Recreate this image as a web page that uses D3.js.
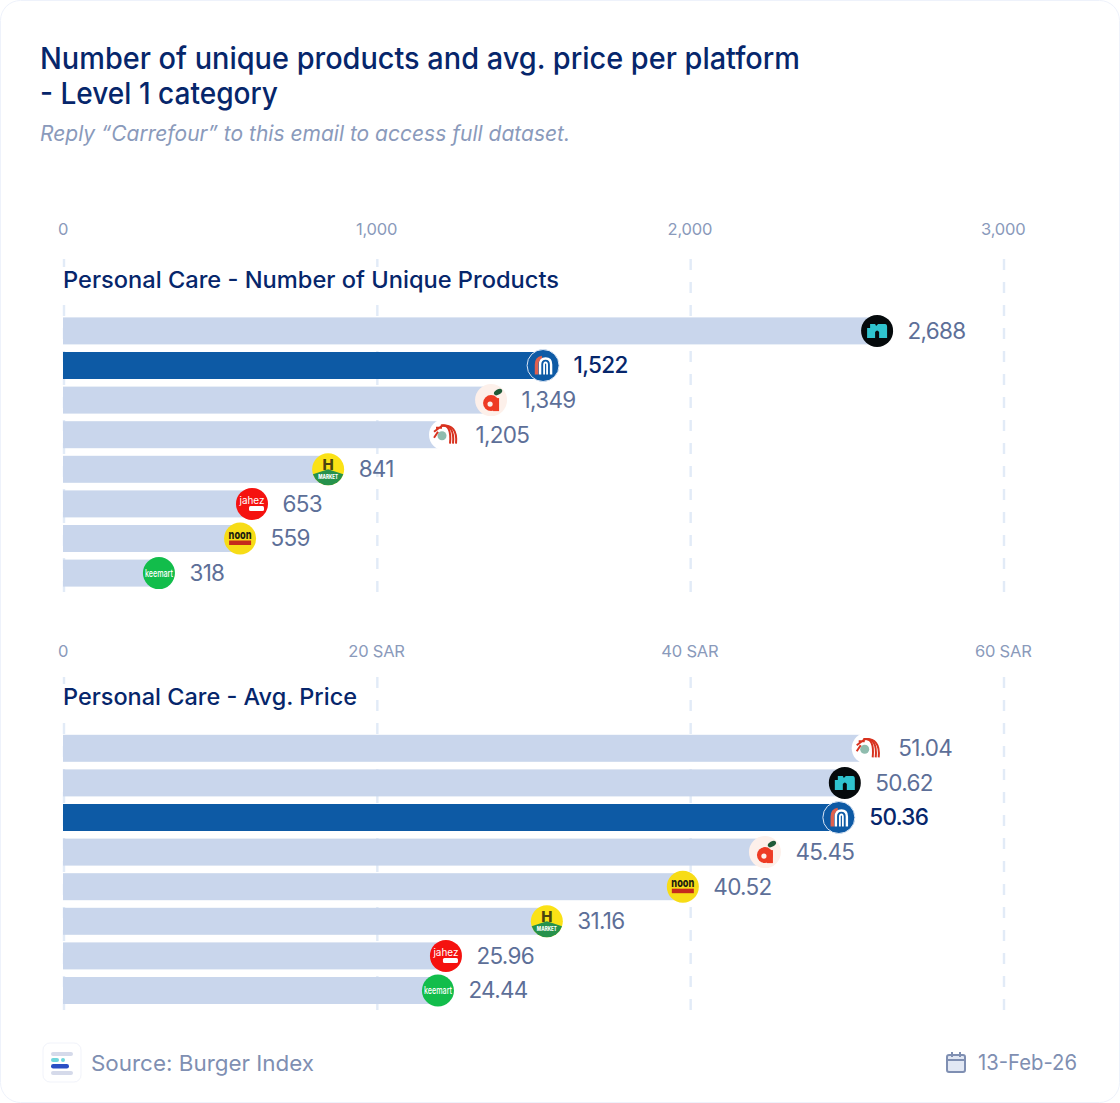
<!DOCTYPE html>
<html><head><meta charset="utf-8">
<script src="https://cdn.jsdelivr.net/npm/d3@7"></script>
<style>
html,body{margin:0;padding:0;background:#fff}
svg{display:block}
text{font-family:Inter,"Noto Sans",sans-serif}
</style></head><body>
<svg id="c" width="1120" height="1103"></svg>
<script>
// Printed labels
const topPlatforms=["ninja","carrefour","danube","tamimi","hmarket","jahez","noon","keemart"];
const topLabels=["2,688","1,522","1,349","1,205","841","653","559","318"];
// Bar lengths as drawn, read against the axis
const topLengths=[2595,1529,1363,1216,843,600,562,303];
const topTicks=[0,1000,2000,3000];
const topTickLabels=["0","1,000","2,000","3,000"];

const lowPlatforms=["tamimi","ninja","carrefour","danube","noon","hmarket","jahez","keemart"];
const lowLabels=["51.04","50.62","50.36","45.45","40.52","31.16","25.96","24.44"];
const lowLengths=[51.3,49.84,49.46,44.74,39.5,30.82,24.38,23.87];
const lowTicks=[0,20,40,60];
const lowTickLabels=["0","20 SAR","40 SAR","60 SAR"];

const svg=d3.select("#c");
const NAVY="#06266b",MUTED="#8a9abb",VAL="#5d6f98",BAR="#c9d6ec",HI="#0d5aa5",GRID="#e2ebf7";

svg.append("rect").attr("x",.5).attr("y",.5).attr("width",1119).attr("height",1102).attr("rx",20)
 .attr("fill","#fff").attr("stroke","#eef2fb");

function txt(x,y,s,size,fill,o={}){
 const t=svg.append("text").attr("x",x).attr("y",y).text(s).attr("font-size",size).attr("fill",fill);
 if(o.w)t.attr("font-weight",o.w);
 if(o.anchor)t.attr("text-anchor",o.anchor);
 if(o.style)t.attr("font-style",o.style);
 if(o.len)t.attr("textLength",o.len).attr("lengthAdjust","spacingAndGlyphs");
 return t;
}
txt(40,69,"Number of unique products and avg. price per platform",30,NAVY,{w:500,len:760});
txt(40,104,"- Level 1 category",30,NAVY,{w:500,len:238});
txt(40,141,"Reply “Carrefour” to this email to access full dataset.",21,MUTED,{style:"italic",len:530});

function logo(g,name){
 const c=(r,f)=>g.append("circle").attr("r",r).attr("fill",f);
 const t=(s,x,y,size,f,w=700,len)=>{const e=g.append("text").text(s).attr("x",x).attr("y",y).attr("text-anchor","middle").attr("font-size",size).attr("fill",f).attr("font-weight",w);if(len)e.attr("textLength",len).attr("lengthAdjust","spacingAndGlyphs");return e;};
 if(name==="ninja"){
  c(16,"#050a0c");
  g.append("path").attr("d","M-10,-3 L-7,-3 L-7,-7 L-2,-7 L-1,-5 L1,-7 L8,-7 Q10,-7 10,-4 L10,7 L2,7 L2,1 Q0,-2 -2,1 L-2,7 L-10,7 Z").attr("fill","#2fc4cf");
 } else if(name==="carrefour"){
  c(16,"#0d5aa5").attr("stroke","#dbe6f5").attr("stroke-width",1);
  g.append("path").attr("d","M-6.5,9 L-6.5,-1 Q-6.5,-7 -1,-8").attr("fill","none").attr("stroke","#e0604e").attr("stroke-width",3.6);
  g.append("path").attr("d","M-3,9 L-3,-1 Q-3,-7 2.5,-7 Q8,-7 8,-1 L8,9").attr("fill","none").attr("stroke","#fff").attr("stroke-width",2.4);
  g.append("path").attr("d","M1,9 L1,-1 Q1,-3 2.5,-3 Q4,-3 4,-1 L4,9").attr("fill","none").attr("stroke","#fff").attr("stroke-width",1.8);
 } else if(name==="danube"){
  c(16,"#fdf0ea");
  c(8,"#ee3b24").attr("cy",3);
  g.append("rect").attr("x",2).attr("y",-2).attr("width",6).attr("height",13).attr("fill","#ee3b24");
  c(2.6,"#fdf0ea").attr("cx",-1).attr("cy",4);
  g.append("ellipse").attr("cx",7).attr("cy",-8).attr("rx",4.5).attr("ry",2.6).attr("transform","rotate(-30 7 -8)").attr("fill","#1f5a38");
 } else if(name==="tamimi"){
  c(16,"#fff");
  c(4.5,"#8fbcae").attr("cx",-3).attr("cy",1);
  for(const r of [5,8,11]) g.append("path").attr("d",`M${-4},${-9} Q${r+2},${-11} ${r},9`).attr("fill","none").attr("stroke","#d8321f").attr("stroke-width",2);
  g.append("path").attr("d","M-11,-3 L-3,-9 M-11,3 L-7,-3 M-9,-7 L-3,-7").attr("stroke","#d8321f").attr("stroke-width",2);
 } else if(name==="hmarket"){
  c(16,"#fbe216");
  g.append("path").attr("d",d3.arc()({innerRadius:0,outerRadius:16,startAngle:Math.PI/2+0.32,endAngle:3*Math.PI/2-0.32})).attr("fill","#26924c");
  t("H",0,1,15,"#4a4410",800);
  t("MARKET",0,10,5.5,"#fff",800,20);
 } else if(name==="jahez"){
  c(16,"#f5120f");
  t("jahez",0,0,10,"#fff",400,25);
  g.append("rect").attr("x",-3).attr("y",2).attr("width",15).attr("height",5).attr("rx",1.5).attr("fill","#fff");
 } else if(name==="noon"){
  c(16,"#f7dc16");
  t("noon",0,0.5,11.5,"#1d1d10",800,23);
  g.append("rect").attr("x",-11).attr("y",2).attr("width",22).attr("height",4.5).attr("fill","#c52a1c");
 } else if(name==="keemart"){
  c(16,"#12bd4b");
  t("keemart",0,3.5,10,"#fff",500,28);
 }
}

function panel(o){
 const x=d3.scaleLinear().domain(o.domain).range([64,1004]);
 const y=d3.scaleBand().domain(o.platforms).range([o.top,o.top+o.step*8]).paddingInner(1-27/o.step).paddingOuter((1-27/o.step)/2);
 // grid
 svg.append("g").selectAll("line").data(o.ticks).join("line")
  .attr("x1",d=>x(d)).attr("x2",d=>x(d)).attr("y1",o.gridTop).attr("y2",o.gridBottom)
  .attr("stroke",GRID).attr("stroke-width",2.4).attr("stroke-dasharray","11 12");
 // axis labels
 const ax=d3.axisTop(x).tickValues(o.ticks).tickFormat((d,i)=>o.tickLabels[i]).tickSize(0).tickPadding(0);
 const ag=svg.append("g").attr("transform",`translate(0,${o.tickY})`).call(ax);
 ag.select(".domain").remove();
 ag.selectAll("text").attr("font-size",16.5).attr("fill",MUTED).attr("font-family","Inter").attr("dy",0)
  .attr("dx",-1.3).attr("letter-spacing",-0.2);
 // backing behind the panel title, so the grid does not run through it
 svg.append("rect").attr("x",55).attr("y",o.titleY-21).attr("width",o.titleLen+15).attr("height",29).attr("fill","#fff");
 txt(63,o.titleY,o.title,23,NAVY,{w:500,len:o.titleLen});
 // bars
 svg.append("g").selectAll("rect").data(o.platforms).join("rect")
  .attr("x",x(0)-1).attr("y",d=>y(d)).attr("height",y.bandwidth())
  .attr("width",(d,i)=>x(o.lengths[i])-x(0)+1)
  .attr("fill",d=>d==="carrefour"?HI:BAR);
 // logos
 svg.append("g").selectAll("g").data(o.platforms).join("g")
  .attr("transform",(d,i)=>`translate(${x(o.lengths[i])},${y(d)+y.bandwidth()/2})`)
  .each(function(d){logo(d3.select(this),d);});
 // value labels
 svg.append("g").selectAll("text").data(o.platforms).join("text")
  .attr("x",(d,i)=>x(o.lengths[i])+30.5).attr("y",d=>y(d)+y.bandwidth()/2+7.8)
  .text((d,i)=>o.labels[i]).attr("font-size",22.5).attr("letter-spacing",-0.7)
  .attr("font-weight",d=>d==="carrefour"?500:400)
  .attr("fill",d=>d==="carrefour"?NAVY:VAL);
}
panel({domain:[0,3000],ticks:topTicks,tickLabels:topTickLabels,platforms:topPlatforms,labels:topLabels,lengths:topLengths,
 top:313.6,step:34.6,gridTop:259,gridBottom:604,tickY:235,titleY:288,title:"Personal Care - Number of Unique Products",titleLen:496});
panel({domain:[0,60],ticks:lowTicks,tickLabels:lowTickLabels,platforms:lowPlatforms,labels:lowLabels,lengths:lowLengths,
 top:731,step:34.6,gridTop:677,gridBottom:1022,tickY:657,titleY:705,title:"Personal Care - Avg. Price",titleLen:294});

// footer
const f=svg.append("g").attr("transform","translate(43,1043)");
f.append("rect").attr("width",38).attr("height",39).attr("rx",7).attr("fill","#fff").attr("stroke","#f1f3fa");
f.append("rect").attr("x",8).attr("y",9).attr("width",22).attr("height",4).attr("rx",2).attr("fill","#d5daea");
f.append("rect").attr("x",8).attr("y",15).attr("width",8).attr("height",4).attr("rx",2).attr("fill","#6fd6dc");
f.append("circle").attr("cx",20).attr("cy",17).attr("r",2).attr("fill","#6fd6dc");
f.append("rect").attr("x",8).attr("y",21).attr("width",18).attr("height",4.5).attr("rx",2.2).attr("fill","#2a4fc4");
f.append("rect").attr("x",8).attr("y",28).attr("width",22).attr("height",4).attr("rx",2).attr("fill","#d5daea");
txt(91,1071,"Source: Burger Index",22,"#7f8fb2",{len:223});
const k=svg.append("g").attr("transform","translate(946,1052)").attr("fill","none").attr("stroke","#7f8fb2").attr("stroke-width",2);
k.append("rect").attr("x",1).attr("y",3).attr("width",18).attr("height",17).attr("rx",2).attr("fill","#e2e8f4");
k.append("path").attr("d","M1,8 H19 M6,0 V5 M14,0 V5");
txt(978,1070,"13-Feb-26",21,"#7f8fb2",{len:99});
</script></body></html>
